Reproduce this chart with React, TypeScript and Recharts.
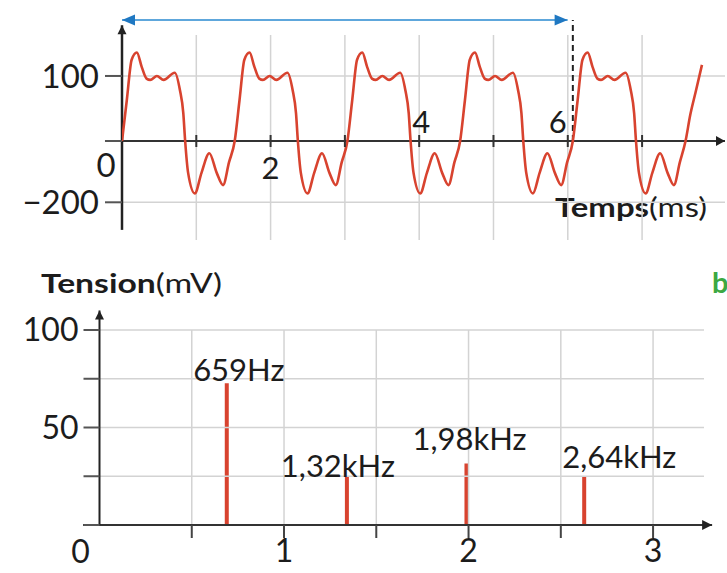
import React from 'react';
import {
	Bar,
	BarChart,
	LabelList,
	Line,
	LineChart,
	ReferenceDot,
	ReferenceLine,
	XAxis,
	YAxis,
} from 'recharts';

// (a) signal: time in ms, tension in mV
const signalTime = [
	0, 0.065, 0.13, 0.2, 0.265, 0.33, 0.38, 0.47, 0.56, 0.71, 0.78, 0.825, 0.85, 0.89, 0.98, 1.07, 1.175, 1.275, 1.36, 1.44,
	1.517, 1.582, 1.647, 1.717, 1.782, 1.847, 1.897, 1.987, 2.077, 2.227, 2.297, 2.342, 2.367, 2.407, 2.497, 2.587, 2.692, 2.792, 2.877, 2.957,
	3.034, 3.099, 3.164, 3.234, 3.299, 3.364, 3.414, 3.504, 3.594, 3.744, 3.814, 3.859, 3.884, 3.924, 4.014, 4.104, 4.209, 4.309, 4.394, 4.474,
	4.551, 4.616, 4.681, 4.751, 4.816, 4.881, 4.931, 5.021, 5.111, 5.261, 5.331, 5.376, 5.401, 5.441, 5.531, 5.621, 5.726, 5.826, 5.911, 5.991,
	6.068, 6.133, 6.198, 6.268, 6.333, 6.398, 6.448, 6.538, 6.628, 6.778, 6.848, 6.893, 6.918, 6.958, 7.048, 7.138, 7.243, 7.343, 7.428, 7.508,
	7.585, 7.65, 7.72, 7.806,
];
const signalTension = [
	0, 63, 125, 136, 114, 96, 94, 100, 94, 105, 78, 43, 0, -104, -171, -104, -40, -104, -144, -70,
	0, 63, 125, 136, 114, 96, 94, 100, 94, 105, 78, 43, 0, -104, -171, -104, -40, -104, -144, -70,
	0, 63, 125, 136, 114, 96, 94, 100, 94, 105, 78, 43, 0, -104, -171, -104, -40, -104, -144, -70,
	0, 63, 125, 136, 114, 96, 94, 100, 94, 105, 78, 43, 0, -104, -171, -104, -40, -104, -144, -70,
	0, 63, 125, 136, 114, 96, 94, 100, 94, 105, 78, 43, 0, -104, -171, -104, -40, -104, -144, -70,
	0, 41, 75, 117,
];
const timeTicks = [1, 2, 3, 4, 5, 6, 7];
const timeTickLabels = ['', '2', '', '4', '', '6', ''];
const signalTensionTicks = [-200, 0, 100];
const signalGridTension = [-200, 100];
const fourPeriods = 6.068; // ms, length of the blue arrow

// (b) spectrum: frequency in kHz, amplitude in mV
const harmonicFreq = [0.689, 1.34, 1.988, 2.626];
const harmonicAmp = [72.7, 25, 31.6, 25];
const harmonicLabels = ['659Hz', '1,32kHz', '1,98kHz', '2,64kHz'];
const freqTicks = [0.5, 1, 1.5, 2, 2.5, 3];
const ampTicks = [0, 25, 50, 75, 100];
const ampGrid = [25, 50, 75, 100];

const signalData = signalTime.map((t, i) => ({ t, v: signalTension[i] }));
const spectrumData = harmonicFreq.map((f, i) => ({ f, a: harmonicAmp[i], label: harmonicLabels[i] }));

const FONT = 'Lato, "Noto Sans", sans-serif';
const INK = '#1c1c1c';
const GRID = '#d3d3d3';
const RED = '#d8432f';

// label placement of the time ticks and spectrum labels (px offsets)
const timeLabelPos = [
	{ dx: 0, dy: 0 },
	{ dx: 0, dy: 27 },
	{ dx: 0, dy: 0 },
	{ dx: 2, dy: -19 },
	{ dx: 0, dy: 0 },
	{ dx: -10, dy: -19 },
	{ dx: 0, dy: 0 },
];
const spectrumLabelPos = [
	{ dx: 12, dy: -2 },
	{ dx: -9, dy: 1 },
	{ dx: 3, dy: -13 },
	{ dx: 35, dy: -8 },
];

// the tension axis of (a) is drawn with a smaller step below zero than above
const NEG_RATIO = 0.4715;
const warp = (v: number) => (v < 0 ? v * NEG_RATIO : v);
function kinkedScale(): any {
	let dom = [0, 1];
	let rng = [0, 1];
	const scale: any = (v: number) => {
		const a = warp(dom[0]);
		const b = warp(dom[dom.length - 1]);
		return rng[0] + ((warp(v) - a) / (b - a)) * (rng[rng.length - 1] - rng[0]);
	};
	scale.domain = (d?: number[]) => {
		if (d === undefined) return dom.slice();
		dom = d.map(Number);
		return scale;
	};
	scale.range = (r?: number[]) => {
		if (r === undefined) return rng.slice();
		rng = r.map(Number);
		return scale;
	};
	scale.copy = () => kinkedScale().domain(dom).range(rng);
	scale.ticks = () => signalTensionTicks;
	scale.invert = (px: number) => {
		const a = warp(dom[0]);
		const b = warp(dom[dom.length - 1]);
		const w = a + ((px - rng[0]) / (rng[rng.length - 1] - rng[0])) * (b - a);
		return w < 0 ? w / NEG_RATIO : w;
	};
	return scale;
}
const tensionScale = kinkedScale();

function arrowShape(color: string, width: number, both = false, headColor = color, len = 10, half = 5) {
	return (p: any) => {
		const { x1, y1, x2, y2 } = p;
		const a = Math.atan2(y2 - y1, x2 - x1);
		const head = (x: number, y: number, ang: number) => {
			const bx = x - len * Math.cos(ang);
			const by = y - len * Math.sin(ang);
			const nx = -Math.sin(ang) * half;
			const ny = Math.cos(ang) * half;
			return `${x},${y} ${bx + nx},${by + ny} ${bx - nx},${by - ny}`;
		};
		return (
			<g>
				<line x1={x1} y1={y1} x2={x2} y2={y2} stroke={color} strokeWidth={width} />
				<polygon points={head(x2, y2, a)} fill={headColor} />
				{both && <polygon points={head(x1, y1, a + Math.PI)} fill={headColor} />}
			</g>
		);
	};
}

const txt = { fontFamily: FONT, fill: INK };

function signalTensionTick(p: any) {
	const v = p.payload.value;
	if (v === 0) {
		return (
			<text x={p.x + 7} y={p.y + 24} dy='0.355em' textAnchor='middle' fontSize={33} {...txt}>
				0
			</text>
		);
	}
	return (
		<text x={p.x} y={p.y} dy='0.355em' textAnchor='end' fontSize={33} {...txt}>
			{v < 0 ? `\u2212${-v}` : v}
		</text>
	);
}

function timeTickShape(i: number) {
	return (p: any) => (
		<g>
			<line x1={p.cx} y1={p.cy - 6} x2={p.cx} y2={p.cy + 6} stroke='#333' strokeWidth={2} />
			{timeTickLabels[i] && (
				<text
					x={p.cx + timeLabelPos[i].dx}
					y={p.cy + timeLabelPos[i].dy}
					dy='0.355em'
					textAnchor='middle'
					fontSize={31}
					{...txt}
				>
					{timeTickLabels[i]}
				</text>
			)}
		</g>
	);
}

function SignalChart() {
	return (
		<LineChart width={727} height={250} data={signalData} margin={{ top: 35, right: 2, bottom: 10, left: 0 }}>
			<XAxis type='number' dataKey='t' domain={[0, 8.116]} ticks={timeTicks} allowDataOverflow hide />
			<YAxis
				type='number'
				scale={tensionScale}
				domain={[-323, 163]}
				ticks={signalTensionTicks}
				interval={0}
				width={122}
				axisLine={false}
				tickLine={{ stroke: '#555', strokeWidth: 2 }}
				tickSize={17}
				tickMargin={6}
				tick={signalTensionTick}
				allowDataOverflow
			/>
			{timeTicks.map((t) => (
				<ReferenceLine key={`gx${t}`} x={t} stroke={GRID} strokeWidth={1.5} />
			))}
			{signalGridTension.map((v) => (
				<ReferenceLine key={`gy${v}`} y={v} stroke={GRID} strokeWidth={1.5} />
			))}
			<ReferenceLine
				segment={[{ x: -0.229, y: 0 }, { x: 8.116, y: 0 }]}
				ifOverflow='visible'
				shape={arrowShape('#333', 2, false, '#222', 9, 5)}
			/>
			<ReferenceLine
				segment={[{ x: 0, y: -290 }, { x: 0, y: 178 }]}
				ifOverflow='visible'
				shape={arrowShape('#222', 2.5, false, '#222', 9, 4.5)}
			/>
			<ReferenceLine
				segment={[{ x: fourPeriods, y: 0 }, { x: fourPeriods, y: 186 }]}
				ifOverflow='visible'
				stroke='#222'
				strokeWidth={2}
				strokeDasharray='6 4'
			/>
			<ReferenceLine
				segment={[{ x: 0, y: 186 }, { x: fourPeriods - 0.07, y: 186 }]}
				ifOverflow='visible'
				shape={arrowShape('#5ea7dc', 2, true, '#1f78c2', 13, 5.5)}
			/>
			{timeTicks.map((t, i) => (
				<ReferenceDot key={t} x={t} y={0} r={0} ifOverflow='visible' shape={timeTickShape(i)} />
			))}
			<Line
				dataKey='v'
				type='monotone'
				stroke={RED}
				strokeWidth={2.6}
				dot={false}
				isAnimationActive={false}
			/>
			<text x={555} y={217} fontSize={26} textLength={152} lengthAdjust='spacingAndGlyphs' {...txt}>
				<tspan fontWeight={700}>Temps</tspan>
				<tspan>(ms)</tspan>
			</text>
		</LineChart>
	);
}

function ampTick(p: any) {
	const v = p.payload.value;
	if (v === 0) {
		return (
			<text x={p.x + 2} y={p.y + 27} dy='0.355em' textAnchor='middle' fontSize={32} {...txt}>
				0
			</text>
		);
	}
	if (v !== 50 && v !== 100) return <g />;
	return (
		<text x={p.x} y={p.y} dy='0.355em' textAnchor='end' fontSize={32} {...txt}>
			{v}
		</text>
	);
}

function freqTick(p: any) {
	const v = p.payload.value;
	if (!Number.isInteger(v)) return <g />;
	return (
		<text x={p.x} y={p.y + 11} dy='0.355em' textAnchor='middle' fontSize={32} {...txt}>
			{v}
		</text>
	);
}

function spectrumLabel(p: any) {
	const pos = spectrumLabelPos[p.index];
	return (
		<text x={p.x + p.width / 2 + pos.dx} y={p.y + pos.dy} textAnchor='middle' fontSize={31} {...txt}>
			{p.value}
		</text>
	);
}

function SpectrumChart() {
	return (
		<BarChart width={727} height={318} data={spectrumData} margin={{ top: 75, right: 23, bottom: 0, left: 0 }} barSize={4}>
			<XAxis
				type='number'
				dataKey='f'
				domain={[0, 3.276]}
				ticks={freqTicks}
				interval={0}
				height={48}
				axisLine={false}
				tickLine={{ stroke: '#444', strokeWidth: 2 }}
				tickSize={13}
				tickMargin={2}
				tick={freqTick}
				allowDataOverflow
			/>
			<YAxis
				type='number'
				domain={[0, 100]}
				ticks={ampTicks}
				interval={0}
				width={99.5}
				axisLine={false}
				tickLine={{ stroke: '#555', strokeWidth: 2 }}
				tickSize={16}
				tickMargin={5}
				tick={ampTick}
			/>
			{freqTicks.map((f) => (
				<ReferenceLine key={`gx${f}`} x={f} stroke={GRID} strokeWidth={1.5} />
			))}
			{ampGrid.map((v) => (
				<ReferenceLine key={`gy${v}`} y={v} stroke={GRID} strokeWidth={1.5} />
			))}
			<ReferenceLine
				segment={[{ x: -0.089, y: 0 }, { x: 3.32, y: 0 }]}
				ifOverflow='visible'
				shape={arrowShape('#333', 2, false, '#222', 10, 5)}
			/>
			<ReferenceLine
				segment={[{ x: 0, y: 0 }, { x: 0, y: 110 }]}
				ifOverflow='visible'
				shape={arrowShape('#222', 2, false, '#222', 9, 4.5)}
			/>
			<Bar dataKey='a' fill={RED} isAnimationActive={false}>
				<LabelList dataKey='label' content={spectrumLabel} />
			</Bar>
			<text x={41} y={38} fontSize={26} textLength={181} lengthAdjust='spacingAndGlyphs' {...txt}>
				<tspan fontWeight={700}>Tension</tspan>
				<tspan>(mV)</tspan>
			</text>
			<text x={712} y={38} fontSize={29} fontWeight={700} fontFamily={FONT} fill='#3ca843'>
				b
			</text>
		</BarChart>
	);
}

export default function App() {
	return (
		<div style={{ position: 'absolute', left: 0, top: 0, width: 727, height: 573, background: '#fff', overflow: 'hidden' }}>
			<div style={{ position: 'absolute', left: 0, top: 0 }}>
				<SignalChart />
			</div>
			<div style={{ position: 'absolute', left: 0, top: 255 }}>
				<SpectrumChart />
			</div>
		</div>
	);
}
